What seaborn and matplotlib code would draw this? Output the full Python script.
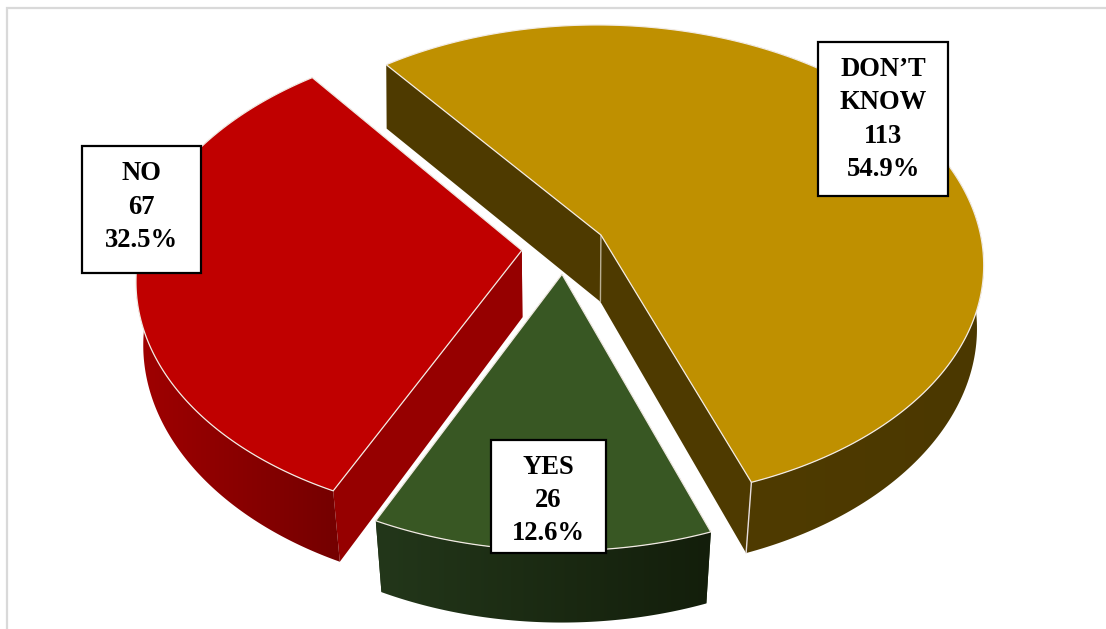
import numpy as np
import matplotlib
matplotlib.use("Agg")
import matplotlib.pyplot as plt
from matplotlib.colors import to_rgb
from matplotlib.patches import Polygon, Rectangle
import seaborn as sns

# Survey responses, clockwise from the upper left of the pie
categories = ["DON\u2019T\nKNOW", "YES", "NO"]
counts = [113, 26, 67]

top_colors = ["#BF9000", "#385723", "#C00000"]
wall_light = ["#4F3B00", "#23371A", "#A00000"]
wall_dark = ["#4B3800", "#131E0B", "#740000"]
radial_colors = ["#4E3A00", "#1E2F13", "#960000"]
crease_colors = ["#B9AE92", None, None]
box_corners = [(818, 42, 948, 196), (491, 440, 606, 553), (82, 146, 201, 273)]
label_centers = [(883, 119.5), (548, 500.5), (141, 207)]

sns.set_theme(style="white")
plt.rcParams["font.family"] = ["Liberation Serif", "DejaVu Serif"]

fig, ax = plt.subplots(figsize=(11.06, 6.29), dpi=100)
ax.set_position([0, 0, 1, 1])
ax.axis("off")

# Perspective view of the tilted pie
CX, CY, SX, SY, PERSP = 564.0, 247.6, 382.0, 237.4, 0.117
EXPLODE = 0.111
START_DEG = 127.5
DEPTH = 67.0


def project(px, py, lower=False):
    w = 1 + PERSP * py
    x = SX * px / w
    y = CY - SY * py / w
    if lower:
        x *= 0.985 + 0.015 * py
        y += DEPTH / np.sqrt(w)
    return CX + x, y


total = sum(counts)
angles = START_DEG - np.cumsum([0] + counts) / total * 360.0

# Frame around the chart area
ax.add_patch(Rectangle((7, 8), 1300, 900, fc="white", ec="#D9D9D9", lw=1.6, zorder=0))

for i, count in enumerate(counts):
    t0, t1 = np.radians(angles[i]), np.radians(angles[i + 1])
    mid = (t0 + t1) / 2
    ox, oy = EXPLODE * np.cos(mid), EXPLODE * np.sin(mid)
    theta = np.linspace(t0, t1, 241)
    rim_x, rim_y = ox + np.cos(theta), oy + np.sin(theta)
    z = 10 + i * 5

    # Straight cut faces
    for k in (0, -1):
        ux, uy = project(np.array([ox, rim_x[k]]), np.array([oy, rim_y[k]]))
        lx, ly = project(np.array([ox, rim_x[k]]), np.array([oy, rim_y[k]]), True)
        ax.add_patch(Polygon(np.c_[np.r_[ux, lx[::-1]], np.r_[uy, ly[::-1]]],
                             fc=radial_colors[i], ec="none", zorder=z))

    # Outer wall, shaded from left to right
    ux, uy = project(rim_x, rim_y)
    lx, ly = project(rim_x, rim_y, True)
    wall = Polygon(np.c_[np.r_[ux, lx[::-1]], np.r_[uy, ly[::-1]]],
                   fc="none", ec="none", transform=ax.transData)
    ax.add_patch(wall)
    front = np.where(np.sin(theta) + oy < 0.35)[0]
    lo = min(ux[front].min(), lx[front].min())
    hi = max(ux[front].max(), lx[front].max())
    shade = np.linspace(0, 1, 256)[:, None]
    c0, c1 = np.array(to_rgb(wall_light[i])), np.array(to_rgb(wall_dark[i]))
    ramp = (c0 + (c1 - c0) * shade)[None, :, :]
    im = ax.imshow(ramp, extent=(lo, hi, 640, 0), aspect="auto", zorder=z + 1,
                   interpolation="bilinear")
    im.set_clip_path(wall)

    # Pale creases at the corners of the solid
    apex_x, apex_y = project(ox, oy)
    base_x, base_y = project(ox, oy, True)
    if crease_colors[i]:
        ax.plot([apex_x, base_x], [apex_y, base_y], color=crease_colors[i], lw=1.0, zorder=z + 2)
    if i != 1:
        ax.plot([ux[-1], lx[-1]], [uy[-1], ly[-1]], color="#E6DDDD", lw=1.0, zorder=z + 2)

    # Top face
    ax.add_patch(Polygon(np.c_[np.r_[apex_x, ux], np.r_[apex_y, uy]], closed=True,
                         fc=top_colors[i], ec="#F2EBE4", lw=0.9, zorder=z + 3,
                         joinstyle="miter"))

ax.set_xlim(0, 1106)
ax.set_ylim(629, 0)

# Value labels
for name, count, (x0, y0, x1, y1), (tx, ty) in zip(categories, counts, box_corners, label_centers):
    ax.add_patch(Rectangle((x0, y0), x1 - x0, y1 - y0, fc="white", ec="black", lw=1.6, zorder=40))
    ax.text(tx, ty, f"{name}\n{count}\n{count / total * 100:.1f}%",
            ha="center", va="center", fontsize=19.2, fontweight="bold", color="black",
            linespacing=1.44, zorder=41)

fig.savefig("out.png", dpi=100, facecolor="white")
